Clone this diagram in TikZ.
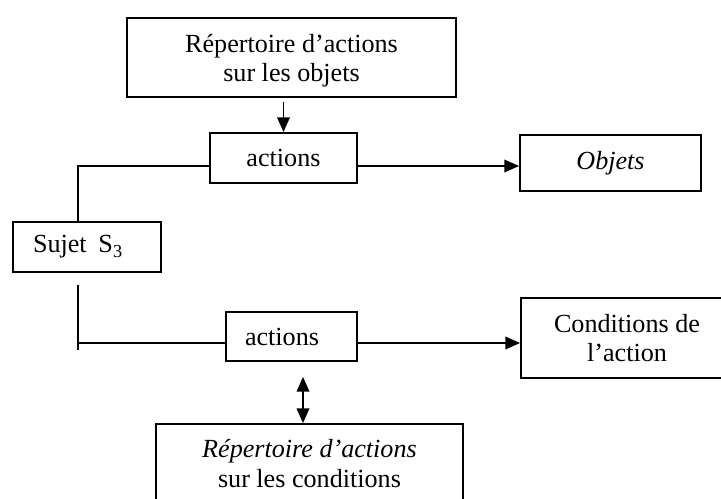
\documentclass[tikz,border=0pt]{standalone}
\usepackage{fontspec}
\setmainfont{Liberation Serif}
\usetikzlibrary{arrows.meta}

\begin{document}
\begin{tikzpicture}[x=0.75pt, y=-0.75pt,
    font=\fontsize{19.6}{22}\selectfont,
    box/.style={draw, line width=1.5pt, align=center, inner sep=0pt},
    link/.style={line width=1.2pt},
    arr/.style={link, -{Triangle[length=11pt, width=9.5pt]}},
    biarr/.style={link, {Triangle[length=11pt, width=9.5pt]}-{Triangle[length=11pt, width=9.5pt]}}]
    %\draw[help lines, step=50] (0, 0) grid (721, 499);
    \useasboundingbox (0, 0) rectangle (721, 499);
    \clip (0, 0) rectangle (721, 499);

    \node[box, minimum width=246.75pt, minimum height=59.25pt] (repobj) at (291.5, 57.5) {\rule{0pt}{18pt}Répertoire d'actions\\sur les objets};
    \node[box, minimum width=110.25pt, minimum height=37.5pt] (act1) at (283.5, 158) {actions};
    \node[box, minimum width=135.75pt, minimum height=42pt] (objets) at (610.5, 163) {\textit{Objets}};
    \node[box, minimum width=111pt, minimum height=37.5pt, text width=81pt, align=left, inner xsep=15pt] (sujet) at (87, 247) {Sujet\hspace{0.45em}S\textsubscript{3}};
    \node[box, minimum width=98.25pt, minimum height=36.75pt, text width=69.75pt, align=left, inner xsep=14.25pt] (act2) at (291.5, 336.5) {actions};
    \node[box, minimum width=159pt, minimum height=60pt] (cond) at (627, 338) {Conditions de\\l'action};
    \node[box, minimum width=230.25pt, minimum height=59.25pt] (repcond) at (309.5, 463.5) {\textit{Répertoire d'actions}\\sur les conditions};

    \coordinate (yup) at (0, 166);
    \coordinate (ylow) at (0, 343);
    \coordinate (xl) at (78, 0);
    \coordinate (sb) at (78, 285);
    \coordinate (se) at (78, 350);
    \coordinate (dtop) at (303, 377);

    \draw[arr] ([yshift=-3pt]act1.north |- repobj.south) -- (act1.north);
    \draw[arr] (act1.east |- yup) -- (objets.west |- yup);
    \draw[link] (act1.west |- yup) -| (sujet.north -| xl);
    \draw[link] (sb) -- (se);
    \draw[link] (xl |- ylow) -- (act2.west |- ylow);
    \draw[arr] (act2.east |- ylow) -- (cond.west |- ylow);
    \draw[biarr] (dtop) -- (repcond.north -| dtop);

\end{tikzpicture}
\end{document}
